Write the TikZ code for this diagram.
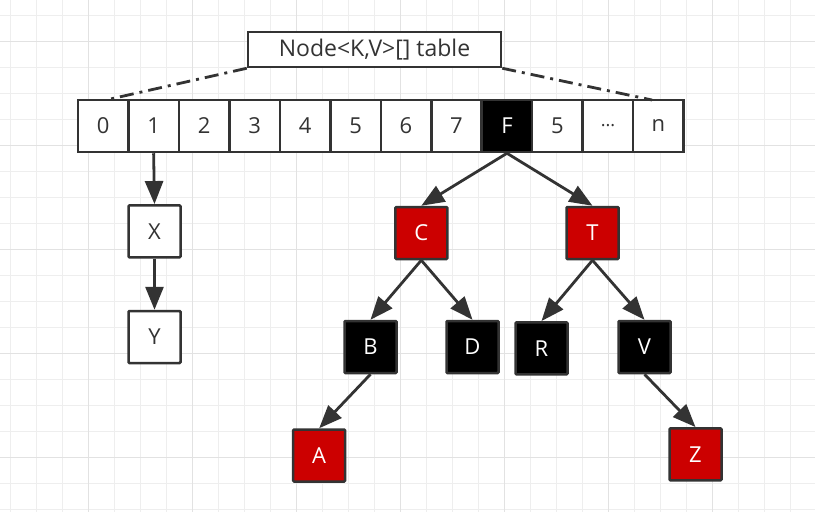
\documentclass[tikz,border=0pt]{standalone}
\usepackage{fontspec}
\setmainfont{Open Sans}
\usetikzlibrary{arrows.meta}
\definecolor{edge}{HTML}{333333}
\definecolor{rbred}{HTML}{CC0000}
\definecolor{gminor}{HTML}{EEEEEE}
\definecolor{gmajor}{HTML}{E2E2E2}
\tikzset{
  box/.style={draw=edge, line width=2.5pt, minimum width=52pt, minimum height=52pt, inner sep=0pt, font=\fontsize{22}{22}\selectfont, rounded corners=1pt},
  plain/.style={box, fill=white, text=black!80},
  blk/.style={box, fill=black, text=white},
  red/.style={box, fill=rbred, text=white},
  cell/.style={draw=edge, line width=2.5pt, minimum width=50.5pt, minimum height=52pt, inner sep=0pt, font=\fontsize{22}{22}\selectfont, fill=white, text=black!80},
  link/.style={draw=edge, line width=2.8pt, -{Triangle[length=23pt,width=18pt]}, shorten >=0pt},
  dashdot/.style={draw=edge, line width=2.8pt, dash pattern=on 14pt off 6pt on 3pt off 6pt}
}
\begin{document}
\begin{tikzpicture}[x=1pt,y=-1pt]
\useasboundingbox (0,0) rectangle (815,512);
\fill[white] (0,0) rectangle (815,512);
% grid
\foreach \i in {0,...,31} {
  \draw[gminor, line width=1pt] ({10.7+26*\i},0) -- ({10.7+26*\i},512);
}
\foreach \j in {0,...,19} {
  \draw[gminor, line width=1pt] (0,{15.3+26*\j}) -- (815,{15.3+26*\j});
}
\foreach \i in {0,...,7} {
  \draw[gmajor, line width=1pt] ({88.7+104*\i},0) -- ({88.7+104*\i},512);
}
\foreach \j in {0,...,4} {
  \draw[gmajor, line width=1pt] (0,{41.3+104*\j}) -- (815,{41.3+104*\j});
}
% title
\node[draw=edge, line width=2.5pt, fill=white, minimum width=253pt, minimum height=35pt, inner sep=0pt, font=\fontsize{23}{23}\selectfont, text=black!80] (title) at (374.5,49.5) {Node<K,V>[] table};
% table cells
\foreach \t [count=\k from 0] in {0,1,2,3,4,5,6,7} {
  \node[cell] (c\k) at ({77.9+50.48*(\k+0.5)},126) {\t};
}
\node[cell, fill=black, text=white] (c8) at ({77.9+50.48*8.5},126) {F};
\node[cell] (c9) at ({77.9+50.48*9.5},126) {5};
\node[cell] (c10) at ({77.9+50.48*10.5},126) {\fontsize{18}{18}\selectfont ...};
\node[cell] (c11) at ({77.9+50.48*11.5},126) {n};
\coordinate (dl) at (106,100);
\coordinate (dr) at (652,100);
\draw[dashdot] (title.south west) -- (dl);
\draw[dashdot] (title.south east) -- (dr);
% chain
\node[plain] (X) at (154.5,231.3) {X};
\node[plain] (Y) at (154.5,337) {Y};
\draw[link] (c1.south) -- (X.north);
\draw[link] (X.south) -- (Y.north);
% tree
\node[red] (C) at (421.3,233) {C};
\node[red] (T) at (592.5,233) {T};
\node[blk] (B) at (370.5,347) {B};
\node[blk] (D) at (472.5,347) {D};
\node[blk] (R) at (541.5,348.3) {R};
\node[blk] (V) at (644.5,347) {V};
\node[red] (A) at (319.2,455.5) {A};
\node[red] (Z) at (695.5,454.3) {Z};
\draw[link] (c8.south) -- (C.north);
\draw[link] (c8.south) -- (T.north);
\draw[link] (C.south) -- (B.north);
\draw[link] (C.south) -- (D.north);
\draw[link] (T.south) -- (R.north);
\draw[link] (T.south) -- (V.north);
\draw[link] (B.south) -- (A.north);
\draw[link] (V.south) -- (Z.north);
\end{tikzpicture}
\end{document}
